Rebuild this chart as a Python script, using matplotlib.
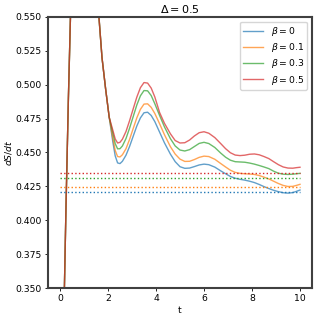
import numpy as np
import matplotlib
matplotlib.use("Agg")
import matplotlib.pyplot as plt

# time grid (shared by all curves)
t = [0.0, 0.15, 0.25, 0.35, 0.45, 0.7, 1.0, 1.3, 1.55, 1.75, 1.9, 2.05,
     2.2, 2.3, 2.4, 2.5, 2.6, 2.75, 2.9, 3.05, 3.2, 3.35, 3.5, 3.65, 3.8,
     3.95, 4.15, 4.35, 4.6, 4.8, 5.0, 5.2, 5.4, 5.6, 5.8, 6.0, 6.2, 6.45,
     6.7, 6.9, 7.1, 7.3, 7.5, 7.7, 7.9, 8.1, 8.3, 8.5, 8.7, 8.9, 9.1, 9.3,
     9.5, 9.7, 9.85, 10.0]

# early part is the same for every beta
early = [0.15, 0.32, 0.41, 0.49, 0.56, 0.64, 0.67, 0.63, 0.567, 0.52,
         0.497, 0.476]

beta0 = early + [0.4580, 0.4475, 0.4423, 0.4418, 0.4435, 0.4480, 0.4545,
                 0.4620, 0.4695, 0.4755, 0.4793, 0.4797, 0.4773, 0.4728,
                 0.4650, 0.4572, 0.4488, 0.4432, 0.4395, 0.4383, 0.4385,
                 0.4396, 0.4408, 0.4414, 0.4410, 0.4392, 0.4364, 0.4343,
                 0.4323, 0.4310, 0.4302, 0.4296, 0.4288, 0.4278, 0.4264,
                 0.4248, 0.4234, 0.4221, 0.4211, 0.4203, 0.4200, 0.4204,
                 0.4213, 0.4223]
beta01 = early + [0.4605, 0.4515, 0.4470, 0.4467, 0.4483, 0.4528, 0.4597,
                  0.4677, 0.4755, 0.4818, 0.4857, 0.4859, 0.4833, 0.4788,
                  0.4712, 0.4632, 0.4543, 0.4488, 0.4451, 0.4434, 0.4435,
                  0.4448, 0.4464, 0.4473, 0.4470, 0.4450, 0.4418, 0.4393,
                  0.4369, 0.4353, 0.4346, 0.4343, 0.4341, 0.4338, 0.4330,
                  0.4318, 0.4305, 0.4288, 0.4271, 0.4257, 0.4249, 0.4250,
                  0.4257, 0.4265]
beta03 = early + [0.4645, 0.4565, 0.4527, 0.4528, 0.4548, 0.4603, 0.4680,
                  0.4765, 0.4850, 0.4918, 0.4957, 0.4955, 0.4920, 0.4860,
                  0.4773, 0.4690, 0.4602, 0.4548, 0.4518, 0.4511, 0.4521,
                  0.4544, 0.4567, 0.4575, 0.4566, 0.4537, 0.4495, 0.4465,
                  0.4443, 0.4432, 0.4430, 0.4428, 0.4422, 0.4414, 0.4404,
                  0.4393, 0.4381, 0.4362, 0.4347, 0.4340, 0.4338, 0.4340,
                  0.4343, 0.4346]
beta05 = early + [0.4665, 0.4600, 0.4570, 0.4575, 0.4598, 0.4655, 0.4735,
                  0.4822, 0.4908, 0.4978, 0.5016, 0.5012, 0.4975, 0.4910,
                  0.4795, 0.4716, 0.4638, 0.4588, 0.4570, 0.4572, 0.4592,
                  0.4622, 0.4646, 0.4653, 0.4642, 0.4610, 0.4565, 0.4528,
                  0.4498, 0.4481, 0.4477, 0.4480, 0.4487, 0.4489, 0.4483,
                  0.4470, 0.4455, 0.4432, 0.4410, 0.4393, 0.4385, 0.4384,
                  0.4388, 0.4391]

curves = [beta0, beta01, beta03, beta05]
labels = [r'$\beta=0$', r'$\beta=0.1$', r'$\beta=0.3$', r'$\beta=0.5$']
# long time levels (dotted)
levels = [0.4206, 0.4248, 0.4312, 0.4346]
colors = ['tab:blue', 'tab:orange', 'tab:green', 'tab:red']

plt.rcParams.update({'font.size': 6.7})
fig = plt.figure(figsize=(3.2, 3.2), dpi=100)
ax = fig.add_axes([0.15, 0.10, 0.825, 0.847])

for y, lab, c in zip(curves, labels, colors):
    ax.plot(t, y, color=c, alpha=0.7, lw=1.0, label=lab)
for lev, c in zip(levels, colors):
    ax.plot([t[0], t[-1]], [lev, lev], color=c, ls=':', lw=1.0)

ax.set_ylim(0.35, 0.55)
ax.set_yticks(np.arange(0.35, 0.5501, 0.025))
ax.yaxis.set_major_formatter(matplotlib.ticker.FormatStrFormatter('%.3f'))
ax.set_xticks([0, 2, 4, 6, 8, 10])
ax.set_xlabel('t', labelpad=2)
ax.set_ylabel(r'$dS/dt$', labelpad=1)
ax.set_title(r'$\Delta=0.5$', pad=3)
ax.tick_params(length=2.5, width=0.6, pad=2)
for s in ax.spines.values():
    s.set_linewidth(1.5)
    s.set_color('0.25')
ax.legend(loc='upper right', labelspacing=0.35, borderpad=0.35,
          handlelength=2.2)

fig.savefig('out.png', dpi=100)
